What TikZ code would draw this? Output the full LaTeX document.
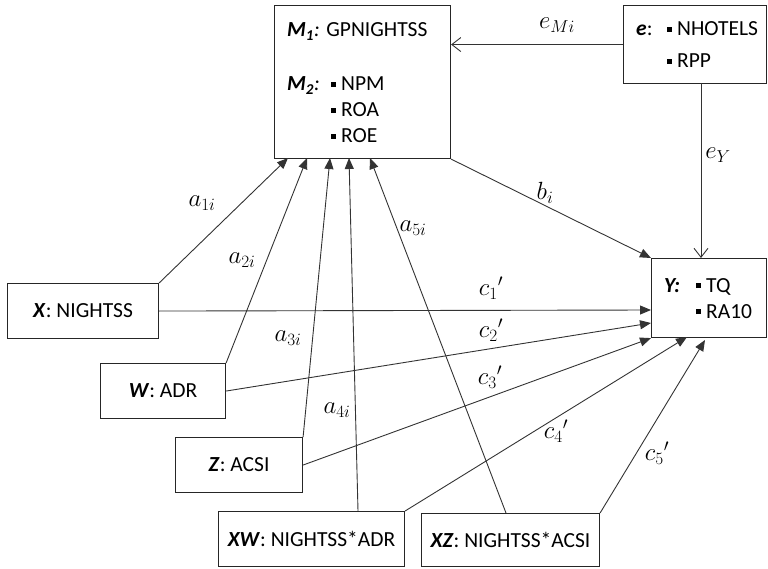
\documentclass[tikz,border=0pt]{standalone}
\usepackage{fontspec}
\setmainfont{Carlito}
\usetikzlibrary{arrows.meta}
\newcommand{\blt}{\rule[4pt]{5pt}{5pt}\hspace{5pt}}
\newcommand{\bi}[1]{\textbf{\textit{#1}}}
\tikzset{
  box/.style={draw=black!85, line width=1.1pt, rectangle, inner sep=0pt, anchor=north west, font=\fontsize{21.5}{24}\selectfont},
  txt/.style={anchor=base west, inner sep=0pt, font=\fontsize{21.5}{24}\selectfont},
  lbl/.style={inner sep=0pt, font=\fontsize{23}{26}\selectfont},
  arr/.style={draw=black!80, line width=0.9pt, -{Triangle[length=11pt,width=9pt]}},
  oarr/.style={draw=black!80, line width=0.9pt, -{Straight Barb[length=9pt,width=14pt,line width=0.9pt]}}
}
\begin{document}
\begin{tikzpicture}[x=1pt,y=-1pt]
\useasboundingbox (0,0) rectangle (768,569);
% boxes
\node[box, minimum width=176pt, minimum height=153pt] (M) at (274,5) {};
\node[box, minimum width=143pt, minimum height=78pt] (e) at (623,5) {};
\node[box, minimum width=115pt, minimum height=79pt] (Y) at (651,258) {};
\node[box, minimum width=151pt, minimum height=55pt] (X) at (7,283) {\bi{X}: NIGHTSS};
\node[box, minimum width=125pt, minimum height=55pt] (W) at (100,363) {\bi{W}: ADR};
\node[box, minimum width=127pt, minimum height=55pt] (Z) at (175,437) {\bi{Z}: ACSI};
\node[box, minimum width=186pt, minimum height=55pt] (XW) at (218,511) {\bi{XW}: NIGHTSS*ADR};
\node[box, minimum width=178pt, minimum height=53pt] (XZ) at (421,513) {\bi{XZ}: NIGHTSS*ACSI};
% box texts
\node[txt] (m1t) at (287,37) {\bi{M\textsubscript{1}}\textit{:} GPNIGHTSS};
\node[txt] (m2t) at (287,91) {\bi{M\textsubscript{2}}\textit{:}};
\node[txt] (m2a) at (331,91) {\blt NPM};
\node[txt] (m2b) at (331,117) {\blt ROA};
\node[txt] (m2c) at (331,143) {\blt ROE};
\node[txt] (et) at (636,36) {\bi{e}:};
\node[txt] (ea) at (667,36) {\blt NHOTELS};
\node[txt] (eb) at (667,68) {\blt RPP};
\node[txt] (yt) at (664,292) {\bi{Y:}};
\node[txt] (ya) at (696,292) {\blt TQ};
\node[txt] (yb) at (696,318) {\blt RA10};
% end coordinates
\coordinate (ma1) at (288,158);
\coordinate (ma2) at (307,158);
\coordinate (ma3) at (330,158);
\coordinate (ma4) at (349,158);
\coordinate (ma5) at (370,158);
\coordinate (xws) at (358,511);
\coordinate (xzs) at (506,513);
\coordinate (yc1) at (651,310);
\coordinate (yc2) at (651,323);
\coordinate (yc4) at (687,337);
\coordinate (yc5) at (705,340);
\coordinate (es) at (701,83);
\coordinate (yn) at (701,258);
% connectors
\draw[arr] (X.north east) -- (ma1);
\draw[arr] (W.north east) -- (ma2);
\draw[arr] (Z.north east) -- (ma3);
\draw[arr] (xws) -- (ma4);
\draw[arr] (xzs) -- (ma5);
\draw[arr] (M.south east) -- (Y.north west);
\draw[arr] (X.east) -- (yc1);
\draw[arr] (W.east) -- (yc2);
\draw[arr] (Z.east) -- (Y.south west);
\draw[arr] (XW.north east) -- (yc4);
\draw[arr] (XZ.north east) -- (yc5);
\draw[oarr] (e.west) -- (e.west -| M.east);
\draw[oarr] (es) -- (yn);
% labels
\node[lbl] (la1) at (202,203) {$a_{1i}$};
\node[lbl] (la2) at (242,260) {$a_{2i}$};
\node[lbl] (la3) at (288,338) {$a_{3i}$};
\node[lbl] (la4) at (337,410) {$a_{4i}$};
\node[lbl] (la5) at (413,228) {$a_{5i}$};
\node[lbl] (lb) at (545,193) {$b_i$};
\node[lbl] (lc1) at (491,288) {$c_1{}'$};
\node[lbl] (lc2) at (491,330) {$c_2{}'$};
\node[lbl] (lc3) at (490,377) {$c_3{}'$};
\node[lbl] (lc4) at (556,431) {$c_4{}'$};
\node[lbl] (lc5) at (657,453) {$c_5{}'$};
\node[lbl] (lem) at (557,25) {$e_{Mi}$};
\node[lbl] (ley) at (718,155) {$e_Y$};
\end{tikzpicture}
\end{document}
